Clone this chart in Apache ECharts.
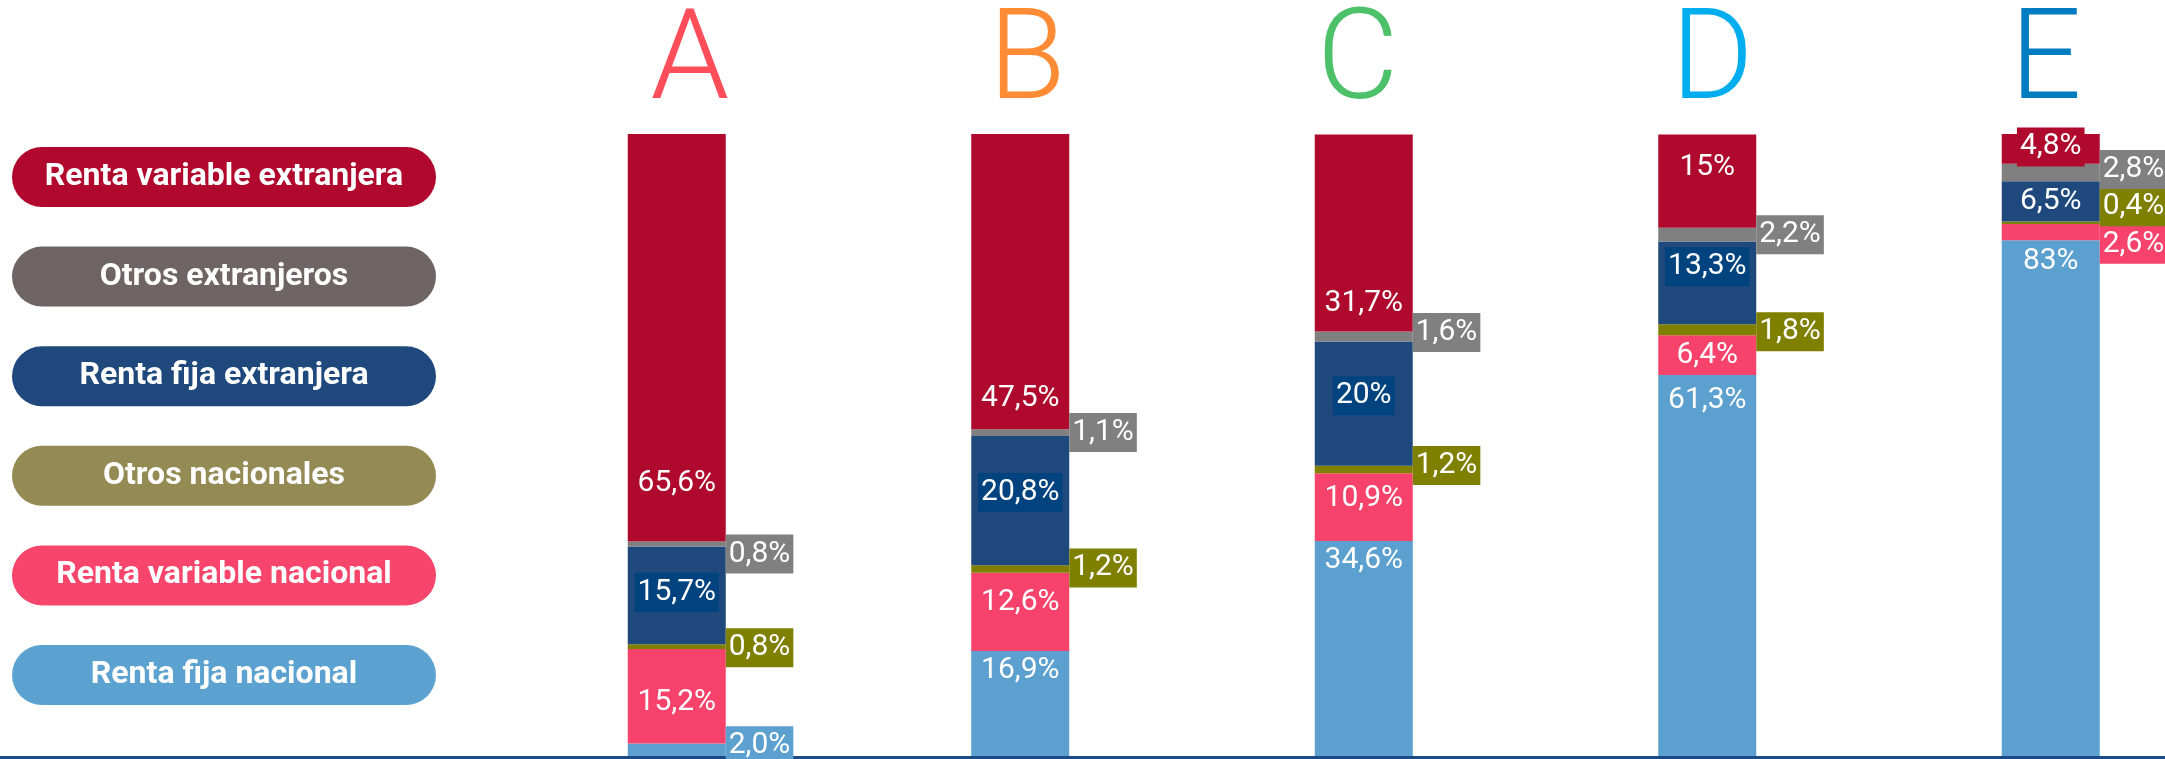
<!DOCTYPE html>
<html>
<head>
<meta charset="utf-8">
<script src="https://cdn.jsdelivr.net/npm/echarts@6/dist/echarts.min.js"></script>
<style>
  html, body { margin: 0; padding: 0; background: #fff; }
  #chart { width: 2165px; height: 759px; }
</style>
</head>
<body>
<div id="chart"></div>
<script>
// categorías y colores de cada letra
var categorias = ['A', 'B', 'C', 'D', 'E'];
var coloresLetra = ['#FF4D5A', '#FF8C35', '#4DC06A', '#00AEEF', '#007DC1'];

// valores (%) por tipo de activo, de abajo hacia arriba en la barra
var rentaFijaNacional = ['2.0', '16.9', '34.6', '61.3', '83'];
var rentaVariableNacional = ['15.2', '12.6', '10.9', '6.4', '2.6'];
var otrosNacionales = ['0.8', '1.2', '1.2', '1.8', '0.4'];
var rentaFijaExtranjera = ['15.7', '20.8', '20', '13.3', '6.5'];
var otrosExtranjeros = ['0.8', '1.1', '1.6', '2.2', '2.8'];
var rentaVariableExtranjera = ['65.6', '47.5', '31.7', '15', '4.8'];

var series = [
    {name: 'Renta fija nacional', raw: rentaFijaNacional, color: '#5BA0CF', pill: '#5BA2D0'},
    {name: 'Renta variable nacional', raw: rentaVariableNacional, color: '#F7436C', pill: '#F7456B'},
    {name: 'Otros nacionales', raw: otrosNacionales, color: '#808000', pill: '#948A54'},
    {name: 'Renta fija extranjera', raw: rentaFijaExtranjera, color: '#1F497D', pill: '#1F497D'},
    {name: 'Otros extranjeros', raw: otrosExtranjeros, color: '#808080', pill: '#6E6465'},
    {name: 'Renta variable extranjera', raw: rentaVariableExtranjera, color: '#AF0A2D', pill: '#B0092D'}
];

// donde va cada etiqueta (como en el original, colocadas a mano)
var R = function (dy, bg) { return {position: 'right', distance: 0, offset: [0, dy], backgroundColor: bg}; };
var I = function (dy, bg) { return {position: 'inside', offset: [0, dy], backgroundColor: bg || 'transparent'}; };
var T = function (d) { return {position: 'insideTop', distance: d}; };
var B = function (d) { return {position: 'insideBottom', distance: d}; };
var azul = '#00437F';
var etiquetas = [
    [R(-4, '#5BA0CF'), T(0), T(0), T(6), T(2)],
    [I(6), I(-9), I(-9), I(0), R(12, '#F7436C')],
    [R(1, '#808000'), R(-1, '#808000'), R(-4, '#808000'), R(2, '#808000'), R(-16, '#808000')],
    [I(-3, azul), I(-8, azul), I(-8, azul), I(-16, azul), I(0)],
    [R(10, '#808080'), R(0, '#808080'), R(-4, '#808080'), R(0, '#808080'), R(-3, '#808080')],
    [B(39), B(11), B(9), I(-14), I(-2, '#AF0A2D')]
];
// pequeño desplazamiento horizontal de cada letra
var desplLetra = [13, 7, -6, 5, -5];

var leyenda = series.slice().reverse();
var rich = {};
leyenda.forEach(function (s, i) {
    rich['s' + i] = {
        width: 424, height: 60, lineHeight: 60, align: 'center',
        backgroundColor: s.pill, borderRadius: 30,
        color: '#fff', fontSize: 32, fontWeight: 'bold', fontFamily: 'Roboto'
    };
});

var chart = echarts.init(document.getElementById('chart'));
var option = {
    animation: false,
    textStyle: {fontFamily: 'Roboto'},
    grid: {left: 505, width: 1717.5, top: 134, bottom: 3, outerBoundsMode: 'none'},
    legend: {
        orient: 'vertical', left: 2, top: 142,
        itemWidth: 0, itemHeight: 60, itemGap: 39.6, icon: 'rect',
        selectedMode: false,
        data: leyenda.map(function (s) { return s.name; }),
        formatter: function (name) {
            for (var i = 0; i < leyenda.length; i++) {
                if (leyenda[i].name === name) return '{s' + i + '|' + name + '}';
            }
            return name;
        },
        textStyle: {rich: rich}
    },
    xAxis: {
        type: 'category',
        position: 'top',
        data: categorias.map(function (c, i) {
            var d = desplLetra[i];
            return {
                value: c,
                textStyle: {
                    color: coloresLetra[i],
                    padding: d > 0 ? [0, 0, 0, 2 * d] : [0, -2 * d, 0, 0]
                }
            };
        }),
        axisLine: {show: false},
        axisTick: {show: false},
        axisLabel: {fontSize: 126, fontWeight: 300, lineHeight: 126, margin: 5}
    },
    yAxis: {type: 'value', min: 0, max: 100.1, show: false},
    graphic: [{
        type: 'rect', left: 0, bottom: 0,
        shape: {width: 2165, height: 3},
        style: {fill: '#1B4A87'}
    }],
    series: series.map(function (s, si) {
        return {
            name: s.name,
            type: 'bar',
            stack: 'total',
            barWidth: 98,
            itemStyle: {color: s.color},
            label: {
                show: true, color: '#fff', fontSize: 30, lineHeight: 35,
                padding: [2, 3],
                formatter: function (p) {
                    return s.raw[p.dataIndex].replace('.', ',') + '%';
                }
            },
            data: s.raw.map(function (v, ci) {
                return {value: Number(v), label: etiquetas[si][ci]};
            })
        };
    })
};
chart.setOption(option);
</script>
</body>
</html>
